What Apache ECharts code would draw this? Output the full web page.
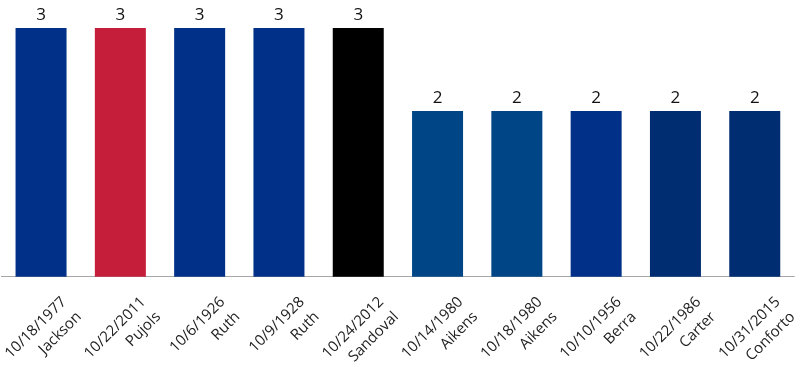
<!DOCTYPE html>
<html>
<head>
<meta charset="utf-8">
<script src="https://cdn.jsdelivr.net/npm/echarts@6/dist/echarts.min.js"></script>
<style>
html,body{margin:0;padding:0;background:#fff;}
#chart{width:800px;height:367px;}
</style>
</head>
<body>
<div id="chart"></div>
<script>
const dates = ['10/18/1977','10/22/2011','10/6/1926','10/9/1928','10/24/2012','10/14/1980','10/18/1980','10/10/1956','10/22/1986','10/31/2015'];
const players = ['Jackson','Pujols','Ruth','Ruth','Sandoval','Aikens','Aikens','Berra','Carter','Conforto'];
const homeRuns = [3,3,3,3,3,2,2,2,2,2];
const barColors = ['#003087','#C41E3A','#003087','#003087','#000000','#004687','#004687','#003087','#002D72','#002D72'];

const categories = dates.map((d, i) => d + '\n' + players[i]);
const data = homeRuns.map((v, i) => ({ value: v, itemStyle: { color: barColors[i] } }));

const chart = echarts.init(document.getElementById('chart'));
chart.setOption({
  animation: false,
  textStyle: { fontFamily: 'Open Sans' },
  grid: { left: 1.4, right: 5.6, top: 28, bottom: 90.3, containLabel: false, outerBoundsMode: 'none' },
  xAxis: {
    type: 'category',
    data: categories,
    axisLine: { lineStyle: { color: '#a6a6a6', width: 1 } },
    axisTick: { alignWithLabel: true, length: 8, lineStyle: { color: '#a6a6a6' } },
    axisLabel: {
      interval: 0,
      rotate: 45,
      margin: 0,
      align: 'right',
      verticalAlign: 'top',
      padding: [22, 0, 0, 0],
      fontSize: 15,
      lineHeight: 21,
      color: '#222',
      fontFamily: 'Open Sans'
    }
  },
  yAxis: {
    type: 'value',
    min: 0,
    max: 3,
    show: false,
    splitLine: { show: false }
  },
  series: [{
    type: 'bar',
    data: data,
    barWidth: 51,
    label: {
      show: true,
      position: 'top',
      distance: 4,
      fontSize: 17,
      color: '#111',
      fontFamily: 'Open Sans'
    }
  }]
});
</script>
</body>
</html>
